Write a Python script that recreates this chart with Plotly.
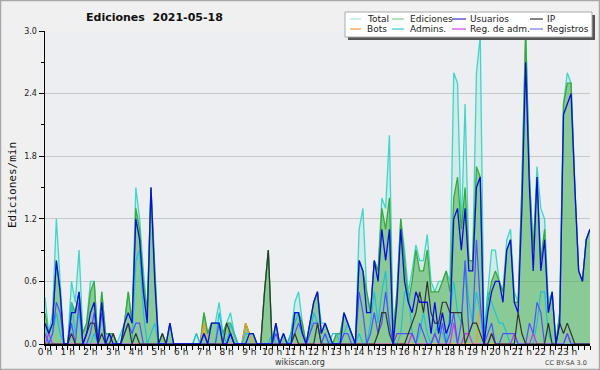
import plotly.graph_objects as go

# time axis: one point every 10 minutes, 00:00 .. 24:00
minutes = list(range(0, 24 * 60 + 1, 10))
hours = [m / 60 for m in minutes]

hour_ticks = list(range(24))
hour_labels = [f"{h} h" for h in hour_ticks]
y_ticks = [0.0, 0.6, 1.2, 1.8, 2.4, 3.0]
y_labels = ["0.0", "0.6", "1.2", "1.8", "2.4", "3.0"]

total = [
    0.45, 0.1, 0.3, 1.2, 0.6, 0.0,
    0.0, 0.6, 0.4, 0.9, 0.1, 0.2,
    0.6, 0.6, 0.0, 0.5, 0.1, 0.1,
    0.1, 0.0, 0.1, 0.2, 0.5, 0.2,
    1.5, 1.2, 0.7, 0.3, 1.5, 0.8,
    0.0, 0.1, 0.0, 0.2, 0.0, 0.0,
    0.0, 0.0, 0.0, 0.0, 0.1, 0.0,
    0.3, 0.1, 0.2, 0.2, 0.4, 0.1,
    0.2, 0.3, 0.1, 0.0, 0.0, 0.2,
    0.1, 0.1, 0.0, 0.0, 0.5, 0.9,
    0.0, 0.2, 0.0, 0.1, 0.0, 0.1,
    0.4, 0.5, 0.2, 0.0, 0.2, 0.4,
    0.5, 0.2, 0.2, 0.1, 0.0, 0.1,
    0.1, 0.3, 0.2, 0.1, 0.0, 1.1,
    1.3, 0.5, 0.3, 0.8, 0.7, 1.4,
    1.3, 2.0, 0.1, 0.5, 1.2, 0.9,
    0.5, 0.7, 0.95, 0.8, 0.8, 1.05,
    0.6, 0.5, 0.6, 0.6, 0.7, 0.6,
    2.6, 2.5, 1.1, 2.3, 0.8, 0.8,
    2.6, 2.95, 0.1, 0.5, 0.9, 0.9,
    0.6, 0.5, 1.0, 1.1, 0.5, 0.4,
    1.5, 3.0, 1.6, 0.9, 1.7, 1.3,
    1.2, 0.4, 0.5, 0.0, 0.3, 2.3,
    2.6, 2.5, 1.5, 0.7, 0.6, 1.0,
    1.1,
]

ediciones = [
    0.3, 0.1, 0.2, 0.8, 0.5, 0.0,
    0.0, 0.4, 0.3, 0.5, 0.1, 0.2,
    0.5, 0.6, 0.0, 0.5, 0.1, 0.1,
    0.1, 0.0, 0.0, 0.2, 0.5, 0.2,
    1.3, 1.1, 0.6, 0.3, 1.5, 0.7,
    0.0, 0.1, 0.0, 0.2, 0.0, 0.0,
    0.0, 0.0, 0.0, 0.0, 0.0, 0.0,
    0.3, 0.1, 0.2, 0.2, 0.2, 0.1,
    0.2, 0.2, 0.1, 0.0, 0.0, 0.2,
    0.1, 0.1, 0.0, 0.0, 0.5, 0.9,
    0.0, 0.2, 0.0, 0.1, 0.0, 0.1,
    0.3, 0.3, 0.2, 0.0, 0.2, 0.4,
    0.5, 0.1, 0.2, 0.1, 0.0, 0.1,
    0.1, 0.3, 0.2, 0.1, 0.0, 0.8,
    0.7, 0.5, 0.3, 0.8, 0.7, 1.3,
    1.1, 1.4, 0.1, 0.5, 1.2, 0.8,
    0.4, 0.6, 0.9, 0.7, 0.7, 0.9,
    0.5, 0.5, 0.5, 0.6, 0.7, 0.5,
    1.4, 1.6, 1.1, 1.5, 0.8, 0.8,
    1.7, 1.6, 0.0, 0.4, 0.6, 0.7,
    0.6, 0.5, 0.9, 1.0, 0.4, 0.4,
    1.5, 3.0, 1.6, 0.9, 1.6, 0.8,
    1.1, 0.3, 0.5, 0.0, 0.3, 2.3,
    2.5, 2.5, 1.5, 0.7, 0.6, 1.0,
    1.1,
]

usuarios = [
    0.2, 0.1, 0.2, 0.8, 0.5, 0.0,
    0.0, 0.3, 0.3, 0.5, 0.0, 0.1,
    0.3, 0.4, 0.0, 0.4, 0.0, 0.1,
    0.0, 0.0, 0.0, 0.2, 0.3, 0.2,
    1.2, 1.0, 0.5, 0.2, 1.5, 0.6,
    0.0, 0.0, 0.0, 0.2, 0.0, 0.0,
    0.0, 0.0, 0.0, 0.0, 0.0, 0.0,
    0.1, 0.0, 0.2, 0.2, 0.2, 0.0,
    0.0, 0.1, 0.0, 0.0, 0.0, 0.0,
    0.1, 0.1, 0.0, 0.0, 0.0, 0.0,
    0.0, 0.2, 0.0, 0.1, 0.0, 0.0,
    0.3, 0.3, 0.1, 0.0, 0.2, 0.4,
    0.5, 0.1, 0.2, 0.1, 0.0, 0.0,
    0.0, 0.3, 0.2, 0.1, 0.0, 0.8,
    0.7, 0.3, 0.3, 0.8, 0.6, 1.1,
    0.8, 1.1, 0.0, 0.4, 1.1, 0.6,
    0.4, 0.3, 0.5, 0.4, 0.4, 0.4,
    0.1, 0.4, 0.1, 0.3, 0.1, 0.2,
    1.2, 1.3, 0.9, 1.3, 0.7, 0.7,
    1.5, 1.6, 0.0, 0.3, 0.5, 0.6,
    0.6, 0.4, 0.9, 1.0, 0.4, 0.3,
    1.3, 2.7, 1.5, 0.7, 1.6, 0.7,
    1.0, 0.3, 0.5, 0.0, 0.2, 2.2,
    2.3, 2.4, 1.5, 0.7, 0.6, 1.0,
    1.1,
]

ip = [
    0.0, 0.0, 0.0, 0.0, 0.0, 0.0,
    0.0, 0.1, 0.0, 0.0, 0.0, 0.1,
    0.2, 0.2, 0.0, 0.1, 0.0, 0.0,
    0.1, 0.0, 0.0, 0.1, 0.2, 0.0,
    0.1, 0.0, 0.0, 0.0, 0.0, 0.0,
    0.0, 0.1, 0.0, 0.0, 0.0, 0.0,
    0.0, 0.0, 0.0, 0.0, 0.0, 0.0,
    0.0, 0.0, 0.0, 0.0, 0.0, 0.0,
    0.2, 0.1, 0.0, 0.0, 0.0, 0.0,
    0.0, 0.0, 0.0, 0.0, 0.5, 0.9,
    0.0, 0.0, 0.0, 0.0, 0.0, 0.0,
    0.1, 0.0, 0.0, 0.0, 0.0, 0.0,
    0.2, 0.0, 0.0, 0.0, 0.0, 0.0,
    0.0, 0.0, 0.0, 0.0, 0.0, 0.0,
    0.0, 0.0, 0.0, 0.0, 0.1, 0.3,
    0.3, 0.1, 0.0, 0.0, 0.0, 0.0,
    0.1, 0.2, 0.3, 0.5, 0.3, 0.6,
    0.3, 0.2, 0.2, 0.4, 0.4, 0.3,
    0.3, 0.3, 0.3, 0.0, 0.1, 0.2,
    0.2, 0.1, 0.0, 0.0, 0.1, 0.0,
    0.0, 0.0, 0.0, 0.0, 0.0, 0.3,
    0.1, 0.0, 0.0, 0.0, 0.0, 0.0,
    0.0, 0.2, 0.0, 0.0, 0.2, 0.1,
    0.2, 0.1, 0.0, 0.0, 0.0, 0.0,
    0.0,
]

bots = [
    0.0, 0.0, 0.0, 0.0, 0.0, 0.0,
    0.0, 0.0, 0.0, 0.0, 0.0, 0.0,
    0.0, 0.0, 0.0, 0.0, 0.0, 0.0,
    0.0, 0.0, 0.0, 0.0, 0.0, 0.0,
    0.0, 0.0, 0.0, 0.0, 0.0, 0.0,
    0.0, 0.0, 0.0, 0.0, 0.0, 0.0,
    0.0, 0.0, 0.0, 0.0, 0.0, 0.0,
    0.2, 0.0, 0.0, 0.0, 0.0, 0.0,
    0.0, 0.0, 0.0, 0.0, 0.0, 0.2,
    0.1, 0.0, 0.0, 0.0, 0.0, 0.0,
    0.0, 0.0, 0.0, 0.0, 0.0, 0.0,
    0.0, 0.0, 0.0, 0.0, 0.0, 0.0,
    0.0, 0.0, 0.0, 0.0, 0.0, 0.0,
    0.0, 0.0, 0.0, 0.0, 0.0, 0.0,
    0.0, 0.0, 0.0, 0.0, 0.0, 0.0,
    0.0, 0.0, 0.0, 0.1, 0.0, 0.0,
    0.0, 0.0, 0.0, 0.0, 0.0, 0.0,
    0.0, 0.0, 0.0, 0.0, 0.0, 0.0,
    0.0, 0.0, 0.0, 0.0, 0.0, 0.0,
    0.0, 0.4, 0.0, 0.0, 0.0, 0.0,
    0.0, 0.0, 0.0, 0.0, 0.0, 0.0,
    0.0, 0.0, 0.0, 0.0, 0.0, 0.0,
    0.0, 0.0, 0.0, 0.0, 0.0, 0.0,
    0.0, 0.0, 0.0, 0.0, 0.0, 0.0,
    0.0,
]

admins = [
    0.2, 0.0, 0.1, 0.3, 0.1, 0.0,
    0.0, 0.4, 0.1, 0.3, 0.0, 0.0,
    0.0, 0.1, 0.0, 0.0, 0.0, 0.0,
    0.0, 0.0, 0.0, 0.0, 0.0, 0.0,
    0.8, 0.9, 0.3, 0.0, 0.1, 0.2,
    0.0, 0.0, 0.0, 0.0, 0.0, 0.0,
    0.0, 0.0, 0.0, 0.0, 0.1, 0.0,
    0.1, 0.0, 0.0, 0.0, 0.3, 0.1,
    0.0, 0.2, 0.1, 0.0, 0.0, 0.1,
    0.1, 0.1, 0.0, 0.0, 0.0, 0.0,
    0.1, 0.0, 0.0, 0.0, 0.0, 0.1,
    0.2, 0.3, 0.1, 0.0, 0.1, 0.3,
    0.2, 0.0, 0.1, 0.0, 0.1, 0.1,
    0.0, 0.1, 0.2, 0.1, 0.0, 0.1,
    0.0, 0.0, 0.2, 0.5, 0.2, 0.5,
    0.7, 0.1, 0.0, 0.0, 0.1, 0.5,
    0.5, 0.1, 0.0, 0.1, 0.3, 0.1,
    0.0, 0.1, 0.2, 0.1, 0.0, 0.3,
    0.6, 0.3, 0.2, 0.8, 0.4, 0.2,
    0.5, 0.3, 0.0, 0.5, 0.4, 0.3,
    0.2, 0.2, 0.1, 0.0, 0.0, 0.0,
    0.0, 0.0, 0.0, 0.0, 0.2, 0.5,
    0.5, 0.1, 0.0, 0.0, 0.0, 0.0,
    0.0, 0.0, 0.0, 0.0, 0.0, 0.0,
    0.0,
]

reg_adm = [
    0.0, 0.1, 0.0, 0.0, 0.0, 0.0,
    0.0, 0.0, 0.0, 0.0, 0.0, 0.0,
    0.0, 0.0, 0.0, 0.0, 0.0, 0.0,
    0.0, 0.0, 0.0, 0.0, 0.0, 0.0,
    0.0, 0.0, 0.0, 0.0, 0.0, 0.0,
    0.0, 0.0, 0.0, 0.0, 0.0, 0.0,
    0.0, 0.0, 0.0, 0.0, 0.0, 0.0,
    0.0, 0.0, 0.0, 0.0, 0.0, 0.0,
    0.0, 0.0, 0.0, 0.0, 0.0, 0.0,
    0.0, 0.0, 0.0, 0.0, 0.0, 0.0,
    0.0, 0.0, 0.0, 0.0, 0.0, 0.0,
    0.0, 0.0, 0.0, 0.0, 0.0, 0.0,
    0.0, 0.0, 0.0, 0.0, 0.0, 0.0,
    0.0, 0.0, 0.0, 0.0, 0.0, 0.0,
    0.0, 0.0, 0.0, 0.0, 0.0, 0.0,
    0.0, 0.0, 0.0, 0.0, 0.0, 0.0,
    0.0, 0.1, 0.0, 0.0, 0.0, 0.0,
    0.0, 0.1, 0.0, 0.0, 0.0, 0.0,
    0.2, 0.0, 0.0, 0.1, 0.1, 0.0,
    0.0, 0.0, 0.0, 0.0, 0.1, 0.0,
    0.0, 0.0, 0.0, 0.0, 0.1, 0.0,
    0.0, 0.0, 0.0, 0.1, 0.0, 0.0,
    0.0, 0.0, 0.0, 0.0, 0.0, 0.0,
    0.1, 0.0, 0.0, 0.0, 0.0, 0.0,
    0.0,
]

registros = [
    0.1, 0.0, 0.1, 0.4, 0.3, 0.0,
    0.0, 0.2, 0.0, 0.4, 0.0, 0.0,
    0.1, 0.3, 0.0, 0.3, 0.0, 0.0,
    0.0, 0.0, 0.0, 0.1, 0.2, 0.1,
    0.2, 0.2, 0.0, 0.0, 0.0, 0.0,
    0.0, 0.0, 0.0, 0.0, 0.0, 0.0,
    0.0, 0.0, 0.0, 0.0, 0.0, 0.0,
    0.1, 0.0, 0.0, 0.0, 0.2, 0.0,
    0.0, 0.1, 0.0, 0.0, 0.0, 0.0,
    0.0, 0.0, 0.0, 0.0, 0.0, 0.0,
    0.0, 0.1, 0.0, 0.0, 0.0, 0.0,
    0.1, 0.2, 0.1, 0.0, 0.1, 0.2,
    0.2, 0.0, 0.1, 0.0, 0.0, 0.0,
    0.0, 0.1, 0.1, 0.0, 0.0, 0.5,
    0.3, 0.0, 0.1, 0.3, 0.1, 0.2,
    0.5, 0.2, 0.0, 0.1, 0.1, 0.1,
    0.1, 0.1, 0.0, 0.2, 0.1, 0.0,
    0.0, 0.1, 0.0, 0.2, 0.0, 0.1,
    0.3, 0.0, 0.2, 0.8, 0.1, 0.2,
    1.0, 0.4, 0.0, 0.1, 0.2, 0.0,
    0.0, 0.1, 0.1, 0.1, 0.1, 0.0,
    0.0, 0.0, 0.2, 0.1, 0.4, 0.3,
    0.0, 0.0, 0.0, 0.0, 0.0, 0.0,
    0.1, 0.0, 0.0, 0.0, 0.0, 0.0,
    0.0,
]

# ---------------------------------------------------------------- styling
C_TOTAL = "#3ed6c6"
C_EDIC = "#3aa83a"
C_USU = "#0c0ce0"
C_IP = "#333333"
C_BOTS = "#ff9a1a"
C_ADM = "#1ec0de"
C_REGADM = "#cc33ee"
C_REG = "#5050ff"

fig = go.Figure()
fig.add_trace(go.Scatter(x=hours, y=total, name="Total", mode="lines", fill="tozeroy",
                         fillcolor="rgba(120,225,205,0.22)", line=dict(color=C_TOTAL, width=1.3)))
fig.add_trace(go.Scatter(x=hours, y=ediciones, name="Ediciones", mode="lines", fill="tozeroy",
                         fillcolor="rgba(50,165,50,0.45)", line=dict(color=C_EDIC, width=1.3)))
fig.add_trace(go.Scatter(x=hours, y=bots, name="Bots", mode="lines", line=dict(color=C_BOTS, width=1.2)))
fig.add_trace(go.Scatter(x=hours, y=admins, name="Admins.", mode="lines", line=dict(color=C_ADM, width=1.2)))
fig.add_trace(go.Scatter(x=hours, y=reg_adm, name="Reg. de adm.", mode="lines", line=dict(color=C_REGADM, width=1.2)))
fig.add_trace(go.Scatter(x=hours, y=registros, name="Registros", mode="lines", line=dict(color=C_REG, width=1.2)))
fig.add_trace(go.Scatter(x=hours, y=ip, name="IP", mode="lines", line=dict(color=C_IP, width=1.2)))
fig.add_trace(go.Scatter(x=hours, y=usuarios, name="Usuarios", mode="lines", line=dict(color=C_USU, width=1.3)))

L, R, T, B = 45, 590, 31, 344


def px(x):
    return (x - L) / (R - L)


def py(y):
    return (B - y) / (B - T)


shapes = []
annotations = []

# outer border of the image
shapes.append(dict(type="rect", xref="paper", yref="paper", x0=px(0.5), x1=px(599.5),
                   y0=py(0.5), y1=py(369.5), line=dict(color="#a8a8a8", width=1.5), layer="above"))

# legend box with shadow
shapes.append(dict(type="rect", xref="paper", yref="paper", x0=px(348), x1=px(595),
                   y0=py(15), y1=py(40), fillcolor="#555555", line=dict(width=0), layer="above"))
shapes.append(dict(type="rect", xref="paper", yref="paper", x0=px(345), x1=px(592),
                   y0=py(12), y1=py(37), fillcolor="#ffffff", line=dict(color="#aaaaaa", width=1), layer="above"))

legend_items = [
    ("Total", "#a8e6dc", 350, 361, 365, 19),
    ("Ediciones", "#7fd07f", 392, 404, 408, 19),
    ("Usuarios", "#3333cc", 452, 466, 468, 19),
    ("IP", "#333333", 530, 543, 545, 19),
    ("Bots", "#ff9933", 350, 361, 365, 29),
    ("Admins.", "#33c8dd", 392, 404, 408, 29),
    ("Reg. de adm.", "#cc44ee", 452, 466, 468, 29),
    ("Registros", "#7777ee", 530, 543, 545, 29),
]
for name, col, x0, x1, tx, yy in legend_items:
    shapes.append(dict(type="line", xref="paper", yref="paper", x0=px(x0), x1=px(x1),
                       y0=py(yy), y1=py(yy), line=dict(color=col, width=1.2), layer="above"))
    annotations.append(dict(text=name, xref="paper", yref="paper", x=px(tx), y=py(yy),
                            xanchor="left", yanchor="middle", showarrow=False,
                            font=dict(family="DejaVu Sans", size=9, color="#222222")))

annotations.append(dict(text="<b>Ediciones\u00a0 2021-05-18</b>", xref="paper", yref="paper",
                        x=px(154), y=py(17), xanchor="center", yanchor="middle", showarrow=False,
                        font=dict(family="DejaVu Sans", size=11, color="#111111")))
annotations.append(dict(text="wikiscan.org", xref="paper", yref="paper", x=px(300), y=py(362),
                        xanchor="center", yanchor="middle", showarrow=False,
                        font=dict(family="DejaVu Sans", size=8, color="#333333")))
annotations.append(dict(text="CC BY-SA 3.0", xref="paper", yref="paper", x=px(589), y=py(362.5),
                        xanchor="right", yanchor="middle", showarrow=False,
                        font=dict(family="DejaVu Sans", size=6.5, color="#444444")))
annotations.append(dict(text="Ediciones/min", xref="paper", yref="paper", x=px(13), y=py(185),
                        xanchor="center", yanchor="middle", showarrow=False, textangle=-90,
                        font=dict(family="DejaVu Sans Mono", size=11, color="#111111")))

fig.update_layout(
    width=600, height=370,
    margin=dict(l=L, r=600 - R, t=T, b=370 - B, pad=0, autoexpand=False),
    paper_bgcolor="#f0f0f0", plot_bgcolor="#eceef1",
    showlegend=False,
    font=dict(family="DejaVu Sans", color="#222222"),
    shapes=shapes, annotations=annotations,
    xaxis=dict(range=[0, 24], tickmode="array", tickvals=hour_ticks, ticktext=hour_labels,
               ticks="outside", ticklen=4, tickcolor="#000000", tickwidth=1, tickangle=0,
               ticklabelstandoff=-5,
               automargin=False,
               showline=True, linecolor="#000000", linewidth=1.5, showgrid=False, zeroline=False,
               tickfont=dict(size=9, color="#222222"),
               minor=dict(tick0=0, dtick=0.25, ticks="outside", ticklen=4, tickcolor="#000000", showgrid=False)),
    yaxis=dict(range=[0, 3.0], tickmode="array", tickvals=y_ticks, ticktext=y_labels,
               ticks="outside", ticklen=5, tickcolor="#000000", tickwidth=1,
               automargin=False,
               showline=True, linecolor="#000000", linewidth=1.5,
               showgrid=True, gridcolor="#c8c8c8", gridwidth=1, zeroline=False,
               tickfont=dict(size=8, color="#222222"),
               minor=dict(tick0=0, dtick=0.3, ticks="outside", ticklen=3, tickcolor="#000000", showgrid=False)),
)

fig.write_html("out.html",
               config={"displayModeBar": False, "staticPlot": True},
               post_script="document.body.style.margin='0px';document.body.style.padding='0px';"
                           "document.body.style.overflow='hidden';")
